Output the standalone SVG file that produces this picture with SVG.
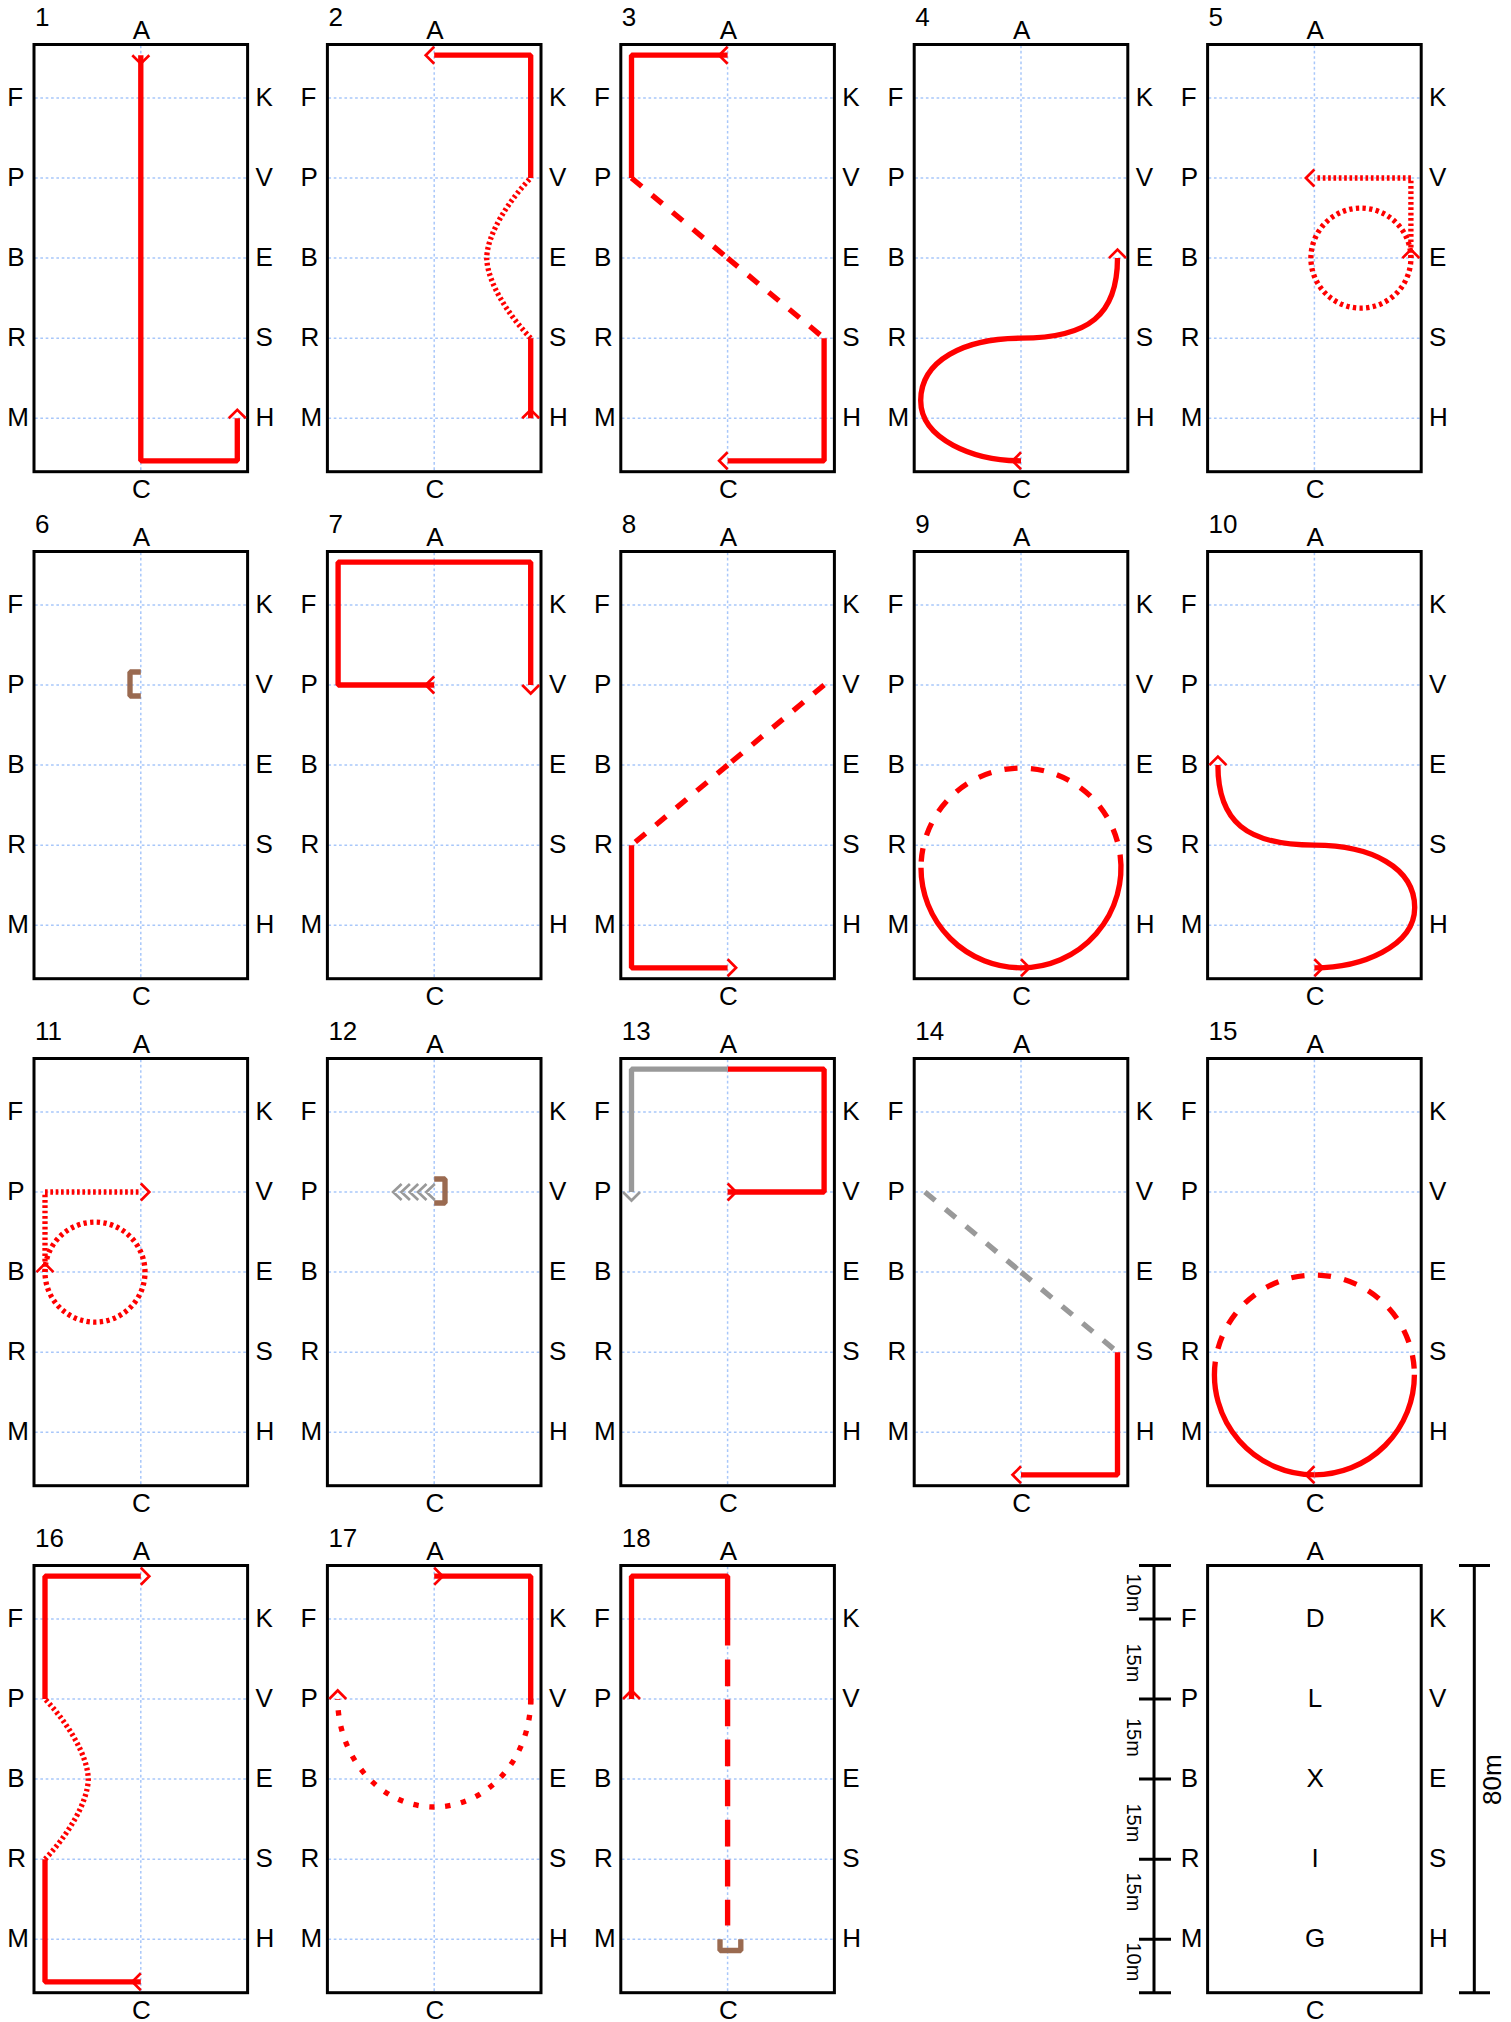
<svg xmlns="http://www.w3.org/2000/svg" width="1511" height="2022" viewBox="0 0 1511 2022">
<style>
text{font-family:"Liberation Sans",Arial,sans-serif;font-size:26px;fill:#000}
.m{text-anchor:middle}
.frame{fill:none;stroke:#000;stroke-width:3}
.grid{fill:none;stroke:#a8c7fa;stroke-width:1.5;stroke-dasharray:2.67 2.67}
.tr{fill:none;stroke:#f00;stroke-width:5.34;stroke-linejoin:bevel}
.gy{stroke:#999}
.dash{stroke-dasharray:13.35 13.35}
.dot{stroke-dasharray:2.67 2.67}
.br{fill:none;stroke:#9a6a50;stroke-width:5.34;stroke-linejoin:bevel}
.s{marker-start:url(#chev)}
.e{marker-end:url(#chev)}
.eg{marker-end:url(#chevg)}
.ch{fill:none;stroke:#999;stroke-width:2.67}
.sc{fill:none;stroke:#000;stroke-width:3}
.sm{font-size:20px}
</style>
<defs>
<marker id="chev" markerUnits="userSpaceOnUse" markerWidth="20" markerHeight="20" refX="0" refY="0" orient="auto" overflow="visible"><path d="M0,-8.5L8.5,0L0,8.5" fill="none" stroke="#f00" stroke-width="2.67"/></marker>
<marker id="chevg" markerUnits="userSpaceOnUse" markerWidth="20" markerHeight="20" refX="0" refY="0" orient="auto" overflow="visible"><path d="M0,-8.5L8.5,0L0,8.5" fill="none" stroke="#999" stroke-width="2.67"/></marker>
<g id="field"><path class="grid" d="M1,53.4H212M1,133.5H212M1,213.6H212M1,293.7H212M1,373.8H212M106.8,1V426"/><rect class="frame" width="213.6" height="427.2"/></g>
</defs>
<g id="arena-1" transform="translate(34,44.5)"><use href="#field"/><text x="1" y="-18.5">1</text><text class="m" x="107.5" y="-5.5">A</text><text class="m" x="107.5" y="453.2">C</text><text x="-26.8" y="61.4">F</text><text x="-26.8" y="141.5">P</text><text x="-26.8" y="221.6">B</text><text x="-26.8" y="301.7">R</text><text x="-26.8" y="381.8">M</text><text x="221.5" y="61.4">K</text><text x="221.5" y="141.5">V</text><text x="221.5" y="221.6">E</text><text x="221.5" y="301.7">S</text><text x="221.5" y="381.8">H</text></g>
<g id="arena-2" transform="translate(327.4,44.5)"><use href="#field"/><text x="1" y="-18.5">2</text><text class="m" x="107.5" y="-5.5">A</text><text class="m" x="107.5" y="453.2">C</text><text x="-26.8" y="61.4">F</text><text x="-26.8" y="141.5">P</text><text x="-26.8" y="221.6">B</text><text x="-26.8" y="301.7">R</text><text x="-26.8" y="381.8">M</text><text x="221.5" y="61.4">K</text><text x="221.5" y="141.5">V</text><text x="221.5" y="221.6">E</text><text x="221.5" y="301.7">S</text><text x="221.5" y="381.8">H</text></g>
<g id="arena-3" transform="translate(620.8,44.5)"><use href="#field"/><text x="1" y="-18.5">3</text><text class="m" x="107.5" y="-5.5">A</text><text class="m" x="107.5" y="453.2">C</text><text x="-26.8" y="61.4">F</text><text x="-26.8" y="141.5">P</text><text x="-26.8" y="221.6">B</text><text x="-26.8" y="301.7">R</text><text x="-26.8" y="381.8">M</text><text x="221.5" y="61.4">K</text><text x="221.5" y="141.5">V</text><text x="221.5" y="221.6">E</text><text x="221.5" y="301.7">S</text><text x="221.5" y="381.8">H</text></g>
<g id="arena-4" transform="translate(914.2,44.5)"><use href="#field"/><text x="1" y="-18.5">4</text><text class="m" x="107.5" y="-5.5">A</text><text class="m" x="107.5" y="453.2">C</text><text x="-26.8" y="61.4">F</text><text x="-26.8" y="141.5">P</text><text x="-26.8" y="221.6">B</text><text x="-26.8" y="301.7">R</text><text x="-26.8" y="381.8">M</text><text x="221.5" y="61.4">K</text><text x="221.5" y="141.5">V</text><text x="221.5" y="221.6">E</text><text x="221.5" y="301.7">S</text><text x="221.5" y="381.8">H</text></g>
<g id="arena-5" transform="translate(1207.6,44.5)"><use href="#field"/><text x="1" y="-18.5">5</text><text class="m" x="107.5" y="-5.5">A</text><text class="m" x="107.5" y="453.2">C</text><text x="-26.8" y="61.4">F</text><text x="-26.8" y="141.5">P</text><text x="-26.8" y="221.6">B</text><text x="-26.8" y="301.7">R</text><text x="-26.8" y="381.8">M</text><text x="221.5" y="61.4">K</text><text x="221.5" y="141.5">V</text><text x="221.5" y="221.6">E</text><text x="221.5" y="301.7">S</text><text x="221.5" y="381.8">H</text></g>
<g id="arena-6" transform="translate(34,551.5)"><use href="#field"/><text x="1" y="-18.5">6</text><text class="m" x="107.5" y="-5.5">A</text><text class="m" x="107.5" y="453.2">C</text><text x="-26.8" y="61.4">F</text><text x="-26.8" y="141.5">P</text><text x="-26.8" y="221.6">B</text><text x="-26.8" y="301.7">R</text><text x="-26.8" y="381.8">M</text><text x="221.5" y="61.4">K</text><text x="221.5" y="141.5">V</text><text x="221.5" y="221.6">E</text><text x="221.5" y="301.7">S</text><text x="221.5" y="381.8">H</text></g>
<g id="arena-7" transform="translate(327.4,551.5)"><use href="#field"/><text x="1" y="-18.5">7</text><text class="m" x="107.5" y="-5.5">A</text><text class="m" x="107.5" y="453.2">C</text><text x="-26.8" y="61.4">F</text><text x="-26.8" y="141.5">P</text><text x="-26.8" y="221.6">B</text><text x="-26.8" y="301.7">R</text><text x="-26.8" y="381.8">M</text><text x="221.5" y="61.4">K</text><text x="221.5" y="141.5">V</text><text x="221.5" y="221.6">E</text><text x="221.5" y="301.7">S</text><text x="221.5" y="381.8">H</text></g>
<g id="arena-8" transform="translate(620.8,551.5)"><use href="#field"/><text x="1" y="-18.5">8</text><text class="m" x="107.5" y="-5.5">A</text><text class="m" x="107.5" y="453.2">C</text><text x="-26.8" y="61.4">F</text><text x="-26.8" y="141.5">P</text><text x="-26.8" y="221.6">B</text><text x="-26.8" y="301.7">R</text><text x="-26.8" y="381.8">M</text><text x="221.5" y="61.4">K</text><text x="221.5" y="141.5">V</text><text x="221.5" y="221.6">E</text><text x="221.5" y="301.7">S</text><text x="221.5" y="381.8">H</text></g>
<g id="arena-9" transform="translate(914.2,551.5)"><use href="#field"/><text x="1" y="-18.5">9</text><text class="m" x="107.5" y="-5.5">A</text><text class="m" x="107.5" y="453.2">C</text><text x="-26.8" y="61.4">F</text><text x="-26.8" y="141.5">P</text><text x="-26.8" y="221.6">B</text><text x="-26.8" y="301.7">R</text><text x="-26.8" y="381.8">M</text><text x="221.5" y="61.4">K</text><text x="221.5" y="141.5">V</text><text x="221.5" y="221.6">E</text><text x="221.5" y="301.7">S</text><text x="221.5" y="381.8">H</text></g>
<g id="arena-10" transform="translate(1207.6,551.5)"><use href="#field"/><text x="1" y="-18.5">10</text><text class="m" x="107.5" y="-5.5">A</text><text class="m" x="107.5" y="453.2">C</text><text x="-26.8" y="61.4">F</text><text x="-26.8" y="141.5">P</text><text x="-26.8" y="221.6">B</text><text x="-26.8" y="301.7">R</text><text x="-26.8" y="381.8">M</text><text x="221.5" y="61.4">K</text><text x="221.5" y="141.5">V</text><text x="221.5" y="221.6">E</text><text x="221.5" y="301.7">S</text><text x="221.5" y="381.8">H</text></g>
<g id="arena-11" transform="translate(34,1058.5)"><use href="#field"/><text x="1" y="-18.5">11</text><text class="m" x="107.5" y="-5.5">A</text><text class="m" x="107.5" y="453.2">C</text><text x="-26.8" y="61.4">F</text><text x="-26.8" y="141.5">P</text><text x="-26.8" y="221.6">B</text><text x="-26.8" y="301.7">R</text><text x="-26.8" y="381.8">M</text><text x="221.5" y="61.4">K</text><text x="221.5" y="141.5">V</text><text x="221.5" y="221.6">E</text><text x="221.5" y="301.7">S</text><text x="221.5" y="381.8">H</text></g>
<g id="arena-12" transform="translate(327.4,1058.5)"><use href="#field"/><text x="1" y="-18.5">12</text><text class="m" x="107.5" y="-5.5">A</text><text class="m" x="107.5" y="453.2">C</text><text x="-26.8" y="61.4">F</text><text x="-26.8" y="141.5">P</text><text x="-26.8" y="221.6">B</text><text x="-26.8" y="301.7">R</text><text x="-26.8" y="381.8">M</text><text x="221.5" y="61.4">K</text><text x="221.5" y="141.5">V</text><text x="221.5" y="221.6">E</text><text x="221.5" y="301.7">S</text><text x="221.5" y="381.8">H</text></g>
<g id="arena-13" transform="translate(620.8,1058.5)"><use href="#field"/><text x="1" y="-18.5">13</text><text class="m" x="107.5" y="-5.5">A</text><text class="m" x="107.5" y="453.2">C</text><text x="-26.8" y="61.4">F</text><text x="-26.8" y="141.5">P</text><text x="-26.8" y="221.6">B</text><text x="-26.8" y="301.7">R</text><text x="-26.8" y="381.8">M</text><text x="221.5" y="61.4">K</text><text x="221.5" y="141.5">V</text><text x="221.5" y="221.6">E</text><text x="221.5" y="301.7">S</text><text x="221.5" y="381.8">H</text></g>
<g id="arena-14" transform="translate(914.2,1058.5)"><use href="#field"/><text x="1" y="-18.5">14</text><text class="m" x="107.5" y="-5.5">A</text><text class="m" x="107.5" y="453.2">C</text><text x="-26.8" y="61.4">F</text><text x="-26.8" y="141.5">P</text><text x="-26.8" y="221.6">B</text><text x="-26.8" y="301.7">R</text><text x="-26.8" y="381.8">M</text><text x="221.5" y="61.4">K</text><text x="221.5" y="141.5">V</text><text x="221.5" y="221.6">E</text><text x="221.5" y="301.7">S</text><text x="221.5" y="381.8">H</text></g>
<g id="arena-15" transform="translate(1207.6,1058.5)"><use href="#field"/><text x="1" y="-18.5">15</text><text class="m" x="107.5" y="-5.5">A</text><text class="m" x="107.5" y="453.2">C</text><text x="-26.8" y="61.4">F</text><text x="-26.8" y="141.5">P</text><text x="-26.8" y="221.6">B</text><text x="-26.8" y="301.7">R</text><text x="-26.8" y="381.8">M</text><text x="221.5" y="61.4">K</text><text x="221.5" y="141.5">V</text><text x="221.5" y="221.6">E</text><text x="221.5" y="301.7">S</text><text x="221.5" y="381.8">H</text></g>
<g id="arena-16" transform="translate(34,1565.5)"><use href="#field"/><text x="1" y="-18.5">16</text><text class="m" x="107.5" y="-5.5">A</text><text class="m" x="107.5" y="453.2">C</text><text x="-26.8" y="61.4">F</text><text x="-26.8" y="141.5">P</text><text x="-26.8" y="221.6">B</text><text x="-26.8" y="301.7">R</text><text x="-26.8" y="381.8">M</text><text x="221.5" y="61.4">K</text><text x="221.5" y="141.5">V</text><text x="221.5" y="221.6">E</text><text x="221.5" y="301.7">S</text><text x="221.5" y="381.8">H</text></g>
<g id="arena-17" transform="translate(327.4,1565.5)"><use href="#field"/><text x="1" y="-18.5">17</text><text class="m" x="107.5" y="-5.5">A</text><text class="m" x="107.5" y="453.2">C</text><text x="-26.8" y="61.4">F</text><text x="-26.8" y="141.5">P</text><text x="-26.8" y="221.6">B</text><text x="-26.8" y="301.7">R</text><text x="-26.8" y="381.8">M</text><text x="221.5" y="61.4">K</text><text x="221.5" y="141.5">V</text><text x="221.5" y="221.6">E</text><text x="221.5" y="301.7">S</text><text x="221.5" y="381.8">H</text></g>
<g id="arena-18" transform="translate(620.8,1565.5)"><use href="#field"/><text x="1" y="-18.5">18</text><text class="m" x="107.5" y="-5.5">A</text><text class="m" x="107.5" y="453.2">C</text><text x="-26.8" y="61.4">F</text><text x="-26.8" y="141.5">P</text><text x="-26.8" y="221.6">B</text><text x="-26.8" y="301.7">R</text><text x="-26.8" y="381.8">M</text><text x="221.5" y="61.4">K</text><text x="221.5" y="141.5">V</text><text x="221.5" y="221.6">E</text><text x="221.5" y="301.7">S</text><text x="221.5" y="381.8">H</text></g>
<g id="legend" transform="translate(1207.6,1565.5)"><rect class="frame" width="213.6" height="427.2"/><text class="m" x="107.5" y="-5.5">A</text><text class="m" x="107.5" y="453.2">C</text><text x="-26.8" y="61.4">F</text><text x="-26.8" y="141.5">P</text><text x="-26.8" y="221.6">B</text><text x="-26.8" y="301.7">R</text><text x="-26.8" y="381.8">M</text><text x="221.5" y="61.4">K</text><text x="221.5" y="141.5">V</text><text x="221.5" y="221.6">E</text><text x="221.5" y="301.7">S</text><text x="221.5" y="381.8">H</text><text class="m" x="107.5" y="61.4">D</text><text class="m" x="107.5" y="141.5">L</text><text class="m" x="107.5" y="221.6">X</text><text class="m" x="107.5" y="301.7">I</text><text class="m" x="107.5" y="381.8">G</text></g>
<g id="scale">
<path class="sc" d="M1154,1565.5V1992.7M1139,1565.5H1171M1139,1618.9H1171M1139,1699H1171M1139,1779.1H1171M1139,1859.2H1171M1139,1939.3H1171M1139,1992.7H1171"/>
<path class="sc" d="M1474.3,1565.5V1992.7M1459,1565.5H1490M1459,1992.7H1490"/>
<text class="sm" transform="translate(1126.7,1573.5) rotate(90)">10m</text>
<text class="sm" transform="translate(1126.7,1643.5) rotate(90)">15m</text>
<text class="sm" transform="translate(1126.7,1718) rotate(90)">15m</text>
<text class="sm" transform="translate(1126.7,1803.5) rotate(90)">15m</text>
<text class="sm" transform="translate(1126.7,1872.5) rotate(90)">15m</text>
<text class="sm" transform="translate(1126.7,1942.5) rotate(90)">10m</text>
<text transform="translate(1500.7,1805) rotate(-90)">80m</text>
</g>
<g id="connectors">
<g transform="translate(34,44.5)"><path class="tr s e" d="M106.8,10.7V416.3H203.3V373.8"/></g>
<g transform="translate(327.4,44.5)"><path class="tr s" d="M203.3,373.8V293.7"/><path class="tr dot" d="M203.3,293.7C182,271.7 160,238.6 159.3,213.6C160,188.6 182,155.5 203.3,133.5"/><path class="tr e" d="M203.3,133.5V10.7H106.8"/></g>
<g transform="translate(620.8,44.5)"><path class="tr s" d="M106.8,10.7H10.7V133.5"/><path class="tr dash" d="M10.7,133.5L106.8,213.6"/><path class="tr dash" d="M106.8,213.6L203.3,293.7"/><path class="tr e" d="M203.3,293.7V416.3H106.8"/></g>
<g transform="translate(914.2,44.5)"><path class="tr s e" d="M106.8,416.3C60,416.3 6.5,395 6.5,356C6.5,316 50,293.7 106.8,293.7C175,293.7 203.3,270 203.3,213.6"/></g>
<g transform="translate(1207.6,44.5)"><path class="tr s" style="stroke-dasharray:3.34 3.34" d="M203.3,213.6A50,50 0 0 0 103.3,213.6A50,50 0 0 0 203.3,213.6"/><path class="tr dot e" d="M203.3,213.6V133.5H106.8"/></g>
<g transform="translate(34,551.5)"><path class="br" d="M106.8,120.5H96V144.5H106.8"/></g>
<g transform="translate(327.4,551.5)"><path class="tr s e" d="M106.8,133.5H10.7V10.7H203.3V133.5"/></g>
<g transform="translate(620.8,551.5)"><path class="tr dash" d="M203.3,133.5L106.8,213.6"/><path class="tr dash" d="M106.8,213.6L10.7,293.7"/><path class="tr e" d="M10.7,293.7V416.3H106.8"/></g>
<g transform="translate(914.2,551.5)"><path class="tr s" d="M106.8,416.3A100,100 0 0 0 205.9,303.2"/><path class="tr dash" stroke-dashoffset="13.35" d="M205.9,303.2A100,100 0 0 0 6.8,316.3"/><path class="tr" d="M6.8,316.3A100,100 0 0 0 106.8,416.3"/></g>
<g transform="translate(1207.6,551.5)"><path class="tr s e" d="M106.8,416.3C153.6,416.3 207.1,395 207.1,356C207.1,316 163.6,293.7 106.8,293.7C38.6,293.7 10.3,270 10.3,213.6"/></g>
<g transform="translate(34,1058.5)"><path class="tr s" style="stroke-dasharray:3.34 3.34" d="M11,213.6A50,50 0 0 1 111,213.6A50,50 0 0 1 11,213.6"/><path class="tr dot e" d="M11,213.6V133.5H106.8"/></g>
<g transform="translate(327.4,1058.5)"><path class="br" d="M106.8,120.5H117.6V144.5H106.8"/><path class="ch" d="M74.2,125.5L65.7,133.5L74.2,141.5M82.5,125.5L74,133.5L82.5,141.5M90.8,125.5L82.3,133.5L90.8,141.5M99.1,125.5L90.6,133.5L99.1,141.5M107.4,125.5L98.9,133.5L107.4,141.5"/></g>
<g transform="translate(620.8,1058.5)"><path class="tr s" d="M106.8,133.5H203.3V10.7H106.8"/><path class="tr gy eg" d="M106.8,10.7H10.7V133.5"/></g>
<g transform="translate(914.2,1058.5)"><path class="tr gy dash" d="M10.7,133.5L106.8,213.6"/><path class="tr gy dash" d="M106.8,213.6L203.3,293.7"/><path class="tr e" d="M203.3,293.7V416.3H106.8"/></g>
<g transform="translate(1207.6,1058.5)"><path class="tr s" d="M106.8,416.3A100,100 0 0 1 7.7,303.2"/><path class="tr dash" stroke-dashoffset="13.35" d="M7.7,303.2A100,100 0 0 1 206.8,316.3"/><path class="tr" d="M206.8,316.3A100,100 0 0 1 106.8,416.3"/></g>
<g transform="translate(34,1565.5)"><path class="tr s" d="M106.8,416.3H11V293.7"/><path class="tr dot" d="M11,293.7C32,271.7 53.6,238.6 54.3,213.6C53.6,188.6 32,155.5 11,133.5"/><path class="tr e" d="M11,133.5V10.7H106.8"/></g>
<g transform="translate(327.4,1565.5)"><path class="tr s" d="M106.8,10.7H203.3V139"/><path class="tr e" stroke-dasharray="5.34 10.68" stroke-dashoffset="-16" d="M203.3,133.5A96.5,108 0 0 1 10.3,133.5"/></g>
<g transform="translate(620.8,1565.5)"><path class="tr s" d="M10.7,133.5V10.7H106.8V80"/><path class="tr" stroke-dasharray="26.7 13.35" d="M106.8,94V360"/><path class="br" d="M99.2,373.8V385H120V373.8"/></g>
</g>
</svg>
